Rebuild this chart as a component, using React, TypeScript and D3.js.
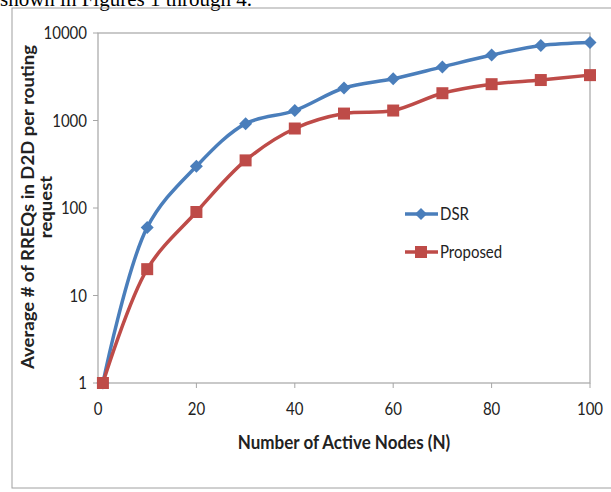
import React from "react";
import * as d3 from "d3";

const nodes = [1, 10, 20, 30, 40, 50, 60, 70, 80, 90, 100];
const dsr = [1, 60, 300, 920, 1300, 2350, 3000, 4100, 5600, 7200, 7800];
const proposed = [1, 20, 90, 350, 810, 1200, 1300, 2050, 2600, 2900, 3300];
const xTicks = [0, 20, 40, 60, 80, 100];
const yTicks = [1, 10, 100, 1000, 10000];
const seriesNames = ["DSR", "Proposed"];
const seriesColors = ["#4A7EBB", "#BE4B48"];

const W = 611;
const H = 492;
const plot = { left: 98, right: 590, top: 33, bottom: 383 };
const FONT = "Lato, 'Open Sans', sans-serif";
const STRETCH = 1.2;

export default function App() {
  const x = d3.scaleLinear().domain([0, 100]).range([plot.left, plot.right]);
  const y = d3.scaleLog().domain([1, 10000]).range([plot.bottom, plot.top]);
  const line = d3
    .line<[number, number]>()
    .x((d) => x(d[0]))
    .y((d) => y(d[1]))
    .curve(d3.curveCatmullRom.alpha(0.5));

  const data = [dsr, proposed].map((vals) =>
    nodes.map((n, i) => [n, vals[i]] as [number, number])
  );

  const diamond = (cx: number, cy: number, r: number) =>
    `M${cx},${cy - r}L${cx + r},${cy}L${cx},${cy + r}L${cx - r},${cy}Z`;

  return (
    <svg
      width={W}
      height={H}
      style={{ position: "absolute", left: 0, top: 0, background: "#fff" }}
    >
      <text
        x={0}
        y={6}
        fontFamily="'Liberation Serif', 'Times New Roman', serif"
        fontSize={21}
        fill="#000"
      >
        shown in Figures 1 through 4.
      </text>
      <rect x={12} y={8} width={620} height={480} fill="none" stroke="#a0a0a0" strokeWidth={1} />

      {/* plot border */}
      <rect
        x={plot.left}
        y={plot.top}
        width={plot.right - plot.left}
        height={plot.bottom - plot.top}
        fill="none"
        stroke="#a6a6a6"
        strokeWidth={1.2}
      />

      {/* y ticks */}
      {yTicks.map((t) => (
        <g key={"y" + t}>
          <line x1={plot.left - 5} x2={plot.left} y1={y(t)} y2={y(t)} stroke="#a6a6a6" />
          <g transform={`translate(${plot.left - 11},${y(t)}) scale(1,${STRETCH})`}>
            <text dy="0.36em" textAnchor="end" fontFamily={FONT} fontSize={15} fill="#222">
              {t}
            </text>
          </g>
        </g>
      ))}

      {/* x ticks */}
      {xTicks.map((t) => (
        <g key={"x" + t}>
          <line x1={x(t)} x2={x(t)} y1={plot.bottom} y2={plot.bottom + 5} stroke="#a6a6a6" />
          <g transform={`translate(${x(t)},${plot.bottom + 32}) scale(1,${STRETCH})`}>
            <text textAnchor="middle" fontFamily={FONT} fontSize={15} fill="#222">
              {t}
            </text>
          </g>
        </g>
      ))}

      <g transform={`translate(${(plot.left + plot.right) / 2},449) scale(1,1.1)`}>
        <text textAnchor="middle" fontFamily={FONT} fontWeight="bold" fontSize={17} fill="#222">
          Number of Active Nodes (N)
        </text>
      </g>

      <g transform="translate(34,207) rotate(-90) scale(1.09,1)">
        <text textAnchor="middle" fontFamily={FONT} fontWeight="bold" fontSize={17} fill="#222">
          <tspan x={0} y={0}>Average # of RREQs in D2D per routing</tspan>
          <tspan x={0} y={18}>request</tspan>
        </text>
      </g>

      {/* series */}
      {data.map((pts, si) => (
        <g key={"s" + si}>
          <path
            d={line(pts) || ""}
            fill="none"
            stroke={seriesColors[si]}
            strokeWidth={3.5}
            strokeLinejoin="round"
          />
          {pts.map((p, i) =>
            si === 0 ? (
              <path key={i} d={diamond(x(p[0]), y(p[1]), 6.5)} fill={seriesColors[si]} />
            ) : (
              <rect
                key={i}
                x={x(p[0]) - 6}
                y={y(p[1]) - 6}
                width={12}
                height={12}
                fill={seriesColors[si]}
              />
            )
          )}
        </g>
      ))}

      {/* legend */}
      {seriesNames.map((name, i) => {
        const ly = 214 + i * 38;
        const cx = 421;
        return (
          <g key={"l" + name}>
            <line x1={405} x2={438} y1={ly} y2={ly} stroke={seriesColors[i]} strokeWidth={3.5} />
            {i === 0 ? (
              <path d={diamond(cx, ly, 6)} fill={seriesColors[i]} />
            ) : (
              <rect x={cx - 6} y={ly - 6} width={12} height={12} fill={seriesColors[i]} />
            )}
            <g transform={`translate(440,${ly}) scale(1,${STRETCH})`}>
              <text dy="0.36em" fontFamily={FONT} fontSize={15} fill="#222">
                {name}
              </text>
            </g>
          </g>
        );
      })}
    </svg>
  );
}
